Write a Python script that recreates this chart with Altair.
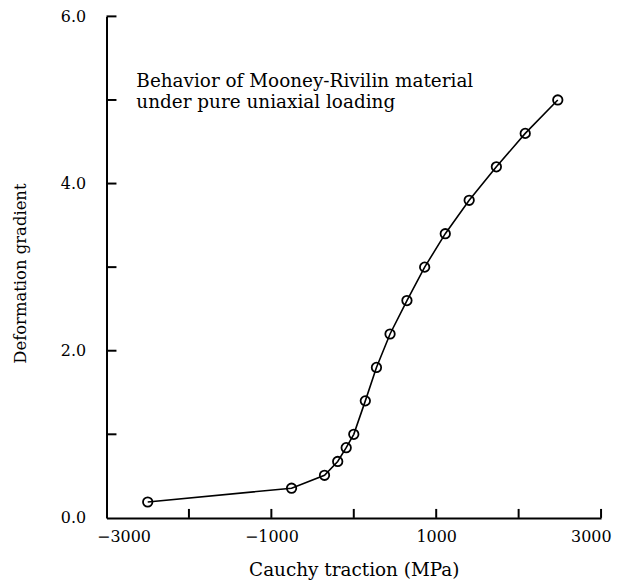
import altair as alt
import pandas as pd

# Data
traction = [-2500, -755, -355, -195, -92, 0, 140, 275, 440, 645, 860, 1110, 1400, 1730, 2080, 2475]
deformation = [0.19, 0.355, 0.51, 0.675, 0.84, 1.0, 1.4, 1.8, 2.2, 2.6, 3.0, 3.4, 3.8, 4.2, 4.6, 5.0]

x_label_values = [-3000, -1000, 1000, 3000]
x_tick_values = [-2000, -1000, 0, 1000, 2000, 3000]
y_label_values = [0, 2, 4, 6]
y_tick_values = [1, 2, 3, 4, 5, 6]
annotation = ["Behavior of Mooney-Rivilin material\nunder pure uniaxial loading"]

W, H = 497, 504
FONT = "DejaVu Serif"

df = pd.DataFrame({"x": traction, "y": deformation})
xs = alt.Scale(domain=[-3000, 3000], nice=False, zero=False)
ys = alt.Scale(domain=[0, 6], nice=False, zero=False)

x_enc = alt.X(
    "x:Q", scale=xs,
    axis=alt.Axis(
        values=x_label_values, format="d", ticks=False, tickSize=0,
        labelPadding=24, labelBaseline="alphabetic", labelFontSize=16,
        labelFont=FONT, labelColor="black",
        labelFlush=True, labelFlushOffset=10,
        title="Cauchy traction (MPa)", titleFontSize=18.5, titleFontWeight="normal",
        titleFont=FONT, titleColor="black",
        titleY=58, titleBaseline="alphabetic", grid=False,
        domainColor="black", domainWidth=2,
    ),
)
y_enc = alt.Y(
    "y:Q", scale=ys,
    axis=alt.Axis(
        values=y_label_values, format=".1f", ticks=False, tickSize=0,
        labelPadding=21, labelFontSize=16,
        labelFont=FONT, labelColor="black",
        title="Deformation gradient", titleFontSize=16.5, titleFontWeight="normal",
        titleFont=FONT, titleColor="black",
        titleAngle=-90, titleX=-81, titleY=H / 2 + 6, titleBaseline="alphabetic",
        titleAlign="center", grid=False,
        domainColor="black", domainWidth=2,
    ),
)

line = alt.Chart(df).mark_line(color="black", strokeWidth=1.6).encode(x=x_enc, y=y_enc)
points = alt.Chart(df).mark_point(
    shape="circle", filled=False, color="black", size=90, strokeWidth=1.8, opacity=1
).encode(x=alt.X("x:Q", scale=xs), y=alt.Y("y:Q", scale=ys))

xt = alt.Chart(pd.DataFrame({"t": x_tick_values})).mark_rule(
    color="black", strokeWidth=2
).encode(x=alt.X("t:Q", scale=xs), y=alt.value(H), y2=alt.value(H - 9))

yt = alt.Chart(pd.DataFrame({"t": y_tick_values})).mark_rule(
    color="black", strokeWidth=2
).encode(y=alt.Y("t:Q", scale=ys), x=alt.value(0), x2=alt.value(10))

txt = alt.Chart(pd.DataFrame({"label": annotation})).mark_text(
    align="left", baseline="alphabetic", font=FONT, fontSize=18.5,
    lineBreak="\n", lineHeight=21, color="black",
).encode(x=alt.value(30), y=alt.value(71), text="label:N")

chart = alt.layer(line, points, xt, yt, txt).properties(
    width=W, height=H,
    autosize=alt.AutoSizeParams(type="none"),
    padding={"left": 99, "top": 7, "right": 11, "bottom": 62},
    background="white",
).configure_view(stroke=None)

chart.save("out.html", embed_options={"renderer": "svg", "actions": False})
